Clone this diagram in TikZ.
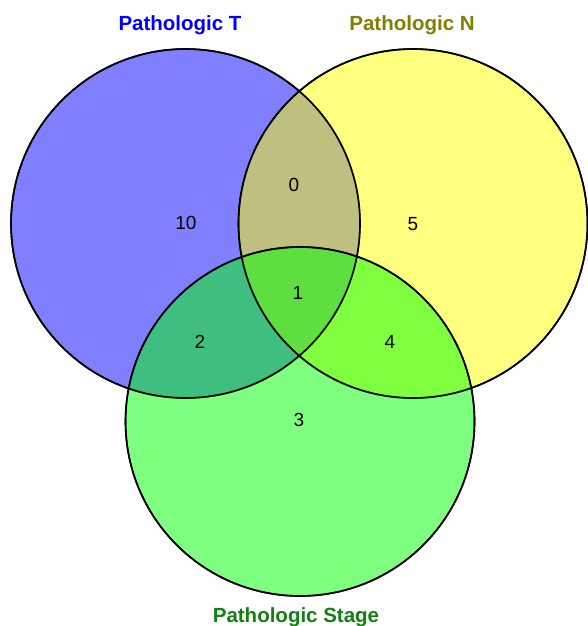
\documentclass[tikz,border=0pt]{standalone}
\usepackage{fontspec}
\setmainfont{Liberation Sans}
\definecolor{catT}{RGB}{0,0,255}
\definecolor{catN}{RGB}{128,128,0}
\definecolor{catS}{RGB}{20,128,20}
\begin{document}
\begin{tikzpicture}[x=1pt,y=-1pt,
  setcircle/.style={draw=black,line width=1.6pt,fill opacity=0.5},
  cnt/.style={font=\fontsize{19}{22}\selectfont,inner sep=0pt},
  cat/.style={font=\fontsize{20.5}{24}\selectfont\bfseries,inner sep=0pt}]
\useasboundingbox (0,0) rectangle (587,626);
\fill[white] (0,0) rectangle (587,626);
\path[setcircle,fill={rgb,255:red,0;green,0;blue,255}] (185.5,223.5) circle (174.5);
\path[setcircle,fill={rgb,255:red,255;green,255;blue,0}] (413,223.5) circle (174.5);
\path[setcircle,fill={rgb,255:red,0;green,255;blue,0}] (300,421.5) circle (174.5);
\draw[line width=1.6pt] (185.5,223.5) circle (174.5);
\draw[line width=1.6pt] (413,223.5) circle (174.5);
\draw[line width=1.6pt] (300,421.5) circle (174.5);
\node[cnt] (a) at (186,222.5) {10};
\node[cnt] (b) at (294,185) {0};
\node[cnt] (c) at (413,224) {5};
\node[cnt] (d) at (298,293) {1};
\node[cnt] (e) at (200,342) {2};
\node[cnt] (f) at (390,342) {4};
\node[cnt] (g) at (299,420) {3};
\node[cat,text=catT,anchor=base] (lt) at (180,31) {Pathologic T};
\node[cat,text=catN,anchor=base] (ln) at (412,31) {Pathologic N};
\node[cat,text=catS,anchor=base] (ls) at (296,622.5) {Pathologic Stage};
\end{tikzpicture}
\end{document}
